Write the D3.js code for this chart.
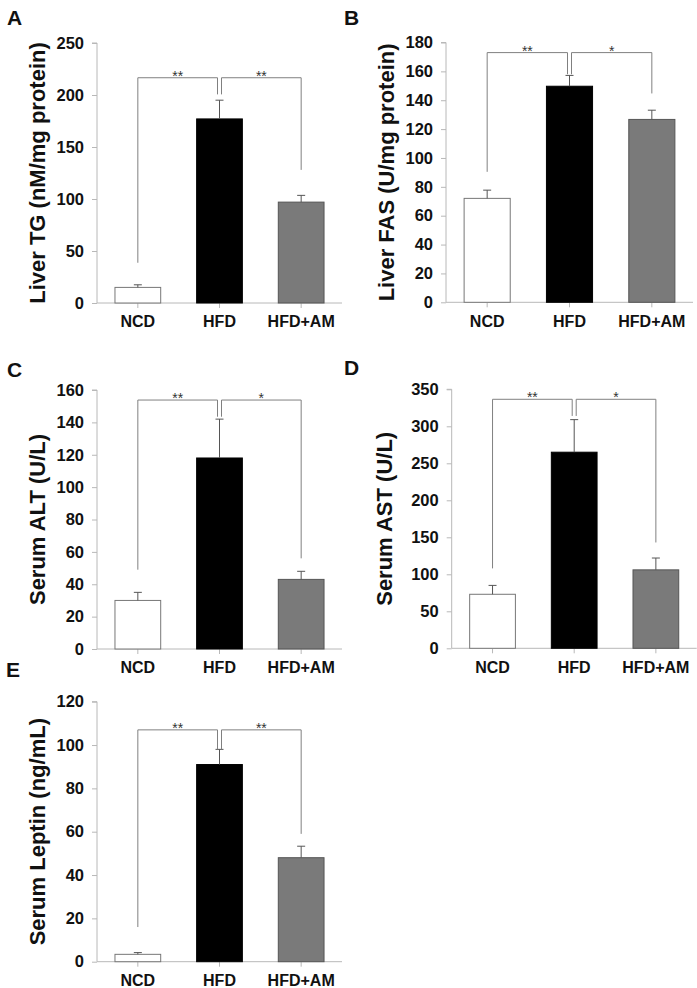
<!DOCTYPE html>
<html>
<head>
<meta charset="utf-8">
<script src="https://cdn.jsdelivr.net/npm/d3@7"></script>
<style>
  html, body { margin: 0; padding: 0; background: #fff; }
  svg text { font-family: "Liberation Sans", Arial, sans-serif; }
</style>
</head>
<body>
<svg id="chart" width="697" height="988"></svg>
<script>
// ---- data ----
const categories = ["NCD", "HFD", "HFD+AM"];
const panelLetters = ["A", "B", "C", "D", "E"];
const yTitles = ["Liver TG (nM/mg protein)", "Liver FAS (U/mg protein)", "Serum ALT (U/L)", "Serum AST (U/L)", "Serum Leptin (ng/mL)"];
const yMax = [250, 180, 160, 350, 120];
const yStep = [50, 20, 20, 50, 20];
const tgMeans = [15, 177, 97];        const tgErr = [2.5, 18, 6.5];
const fasMeans = [72, 149.7, 126.7];  const fasErr = [5.7, 7.5, 6.4];
const altMeans = [30, 118, 43];       const altErr = [5, 24, 5];
const astMeans = [73, 265, 106];      const astErr = [12, 44, 16];
const leptinMeans = [3.4, 91, 48];    const leptinErr = [0.8, 7, 5.3];
const means = [tgMeans, fasMeans, altMeans, astMeans, leptinMeans];
const errs = [tgErr, fasErr, altErr, astErr, leptinErr];
// significance brackets: bar level, leg ends [NCD, HFD, HFD, HFD+AM], stars
const bracketLevel = [216.6, 173, 153.8, 336.5, 107];
const bracketLegs = [[38.7, 200.6, 200.6, 128], [90.4, 158, 158, 144.7], [49, 143.5, 143.5, 56], [108, 314, 314, 143], [16, 98, 98, 59]];
const stars = [["**", "**"], ["**", "*"], ["**", "*"], ["**", "*"], ["**", "**"]];

// ---- layout (pixel frames of each panel) ----
const frames = [
  { ax: 97,  top: 43,    bot: 303,   right: 342, titleX: 37,  letterX: 7,   letterY: 25 },
  { ax: 446, top: 42.5,  bot: 302.3, right: 693, titleX: 386, letterX: 344, letterY: 25 },
  { ax: 97,  top: 390,   bot: 649,   right: 342, titleX: 37,  letterX: 7,   letterY: 377 },
  { ax: 451.7, top: 389.3, bot: 648.3, right: 696.7, titleX: 384, letterX: 344, letterY: 375 },
  { ax: 97,  top: 701.7, bot: 961.7, right: 342, titleX: 37,  letterX: 6,   letterY: 677 }
];
const fills = ["#ffffff", "#000000", "#7a7a7a"];
const strokes = ["#777777", "#000000", "#555555"];

const svg = d3.select("#chart");

frames.forEach((f, i) => {
  const g = svg.append("g");
  const x = d3.scaleBand().domain(categories).range([f.ax, f.right]).paddingInner(0.44).paddingOuter(0.22);
  const y = d3.scaleLinear().domain([0, yMax[i]]).range([f.bot, f.top]);
  const ticks = d3.range(0, yMax[i] + 0.001, yStep[i]);

  // y axis
  const yAxis = d3.axisLeft(y).tickValues(ticks).tickSize(5).tickPadding(8).tickFormat(d3.format("d"));
  const ya = g.append("g").attr("transform", `translate(${f.ax},0)`).call(yAxis);
  ya.select(".domain").attr("stroke", "#b8b8b8").attr("d", `M-5,${f.top}H0V${f.bot}`);
  ya.selectAll(".tick line").attr("stroke", "#b8b8b8");
  ya.selectAll(".tick text").attr("fill", "#111").attr("font-size", 16.5).attr("font-weight", "bold")
    .attr("font-family", "Liberation Sans, Arial, sans-serif");

  // x axis
  const xAxis = d3.axisBottom(x).tickSize(5).tickPadding(8);
  const xa = g.append("g").attr("transform", `translate(0,${f.bot})`).call(xAxis);
  xa.select(".domain").attr("stroke", "#b8b8b8").attr("d", `M${f.ax},0H${f.right}`);
  xa.selectAll(".tick line").attr("stroke", "#b8b8b8");
  xa.selectAll(".tick text").attr("fill", "#111").attr("font-size", 16).attr("font-weight", "bold")
    .attr("font-family", "Liberation Sans, Arial, sans-serif");

  // bars
  g.selectAll("rect.bar").data(categories).join("rect")
    .attr("x", d => x(d)).attr("width", x.bandwidth())
    .attr("y", (d, k) => y(means[i][k])).attr("height", (d, k) => f.bot - y(means[i][k]))
    .attr("fill", (d, k) => fills[k]).attr("stroke", (d, k) => strokes[k]).attr("stroke-width", 1);

  // error bars (upper only)
  categories.forEach((c, k) => {
    const cx = x(c) + x.bandwidth() / 2;
    const y0 = y(means[i][k]), y1 = y(means[i][k] + errs[i][k]);
    g.append("line").attr("x1", cx).attr("x2", cx).attr("y1", y0).attr("y2", y1)
      .attr("stroke", "#555").attr("stroke-width", 1);
    g.append("line").attr("x1", cx - 4).attr("x2", cx + 4).attr("y1", y1).attr("y2", y1)
      .attr("stroke", "#555").attr("stroke-width", 1);
  });

  // significance brackets
  const c0 = x(categories[0]) + x.bandwidth() / 2;
  const c1 = x(categories[1]) + x.bandwidth() / 2;
  const c2 = x(categories[2]) + x.bandwidth() / 2;
  const by = y(bracketLevel[i]);
  const L = bracketLegs[i];
  const pairs = [[c0, c1 - 2, L[0], L[1]], [c1 + 2, c2, L[2], L[3]]];
  pairs.forEach((p, j) => {
    g.append("path")
      .attr("d", `M${p[0]},${y(p[2])}V${by}H${p[1]}V${y(p[3])}`)
      .attr("fill", "none").attr("stroke", "#808080").attr("stroke-width", 1);
    g.append("text").attr("x", (p[0] + p[1]) / 2).attr("y", by + 3)
      .attr("text-anchor", "middle").attr("font-size", 14).attr("fill", "#333")
      .text(stars[i][j]);
  });

  // y title
  g.append("text")
    .attr("transform", `translate(${f.titleX},${(f.top + f.bot) / 2}) rotate(-90)`)
    .attr("text-anchor", "middle").attr("dominant-baseline", "central")
    .attr("font-size", 22).attr("font-weight", "bold").attr("fill", "#111")
    .text(yTitles[i]);

  // panel letter
  g.append("text").attr("x", f.letterX).attr("y", f.letterY)
    .attr("font-size", 21).attr("font-weight", "bold").attr("fill", "#111")
    .text(panelLetters[i]);
});
</script>
</body>
</html>
